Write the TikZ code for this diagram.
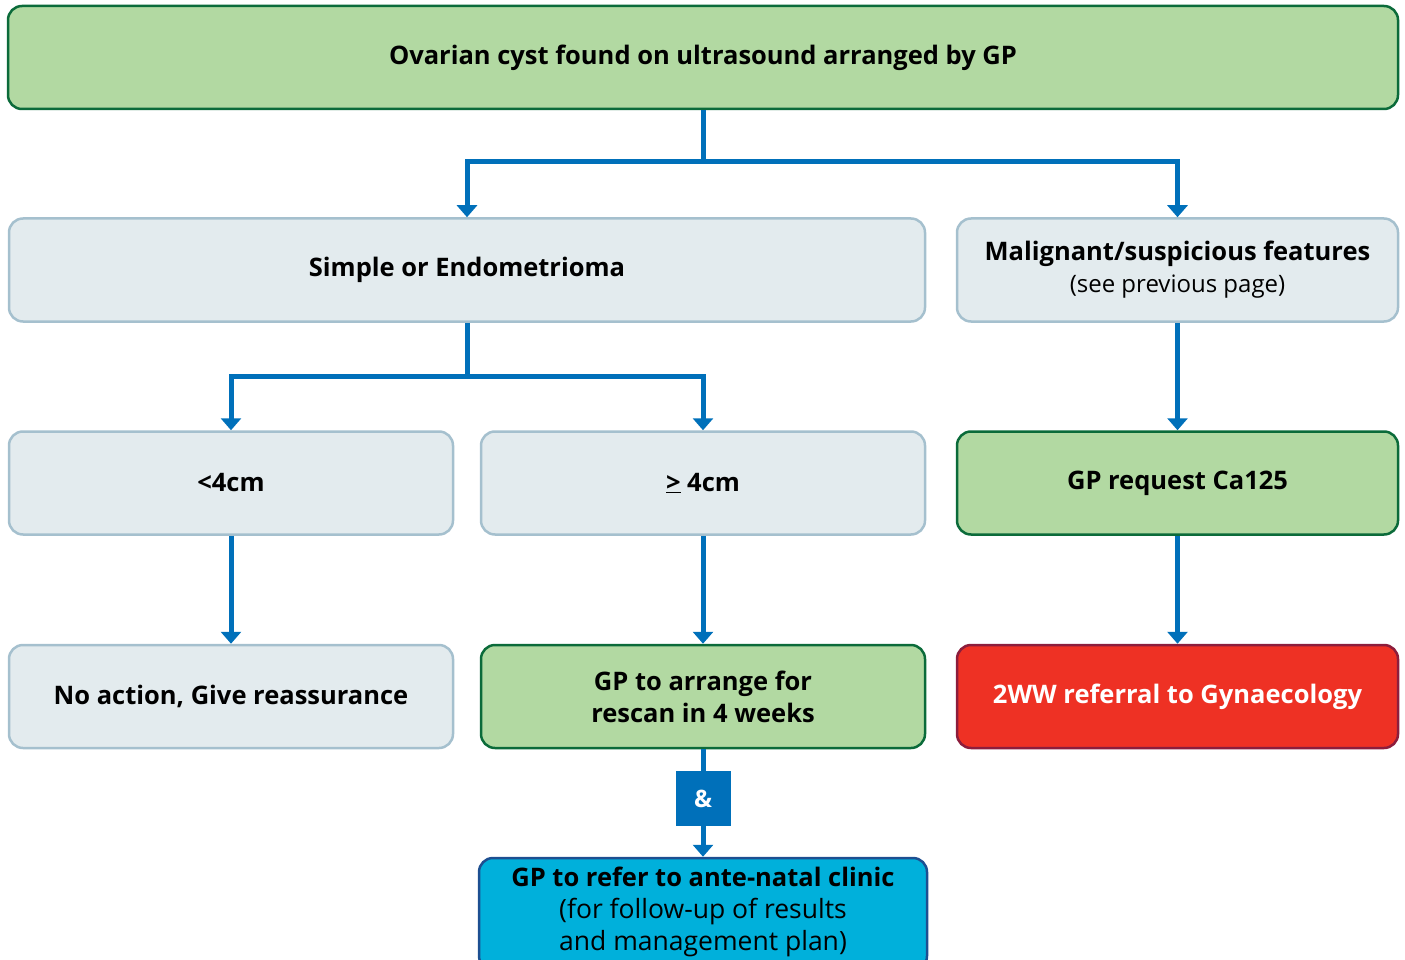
\documentclass[tikz,border=0pt]{standalone}
\usepackage{fontspec}
\setmainfont{Open Sans}
\usetikzlibrary{arrows.meta}
\definecolor{gfill}{HTML}{B2D9A2}
\definecolor{gline}{HTML}{0B6B3A}
\definecolor{pfill}{HTML}{E3EBEE}
\definecolor{pline}{HTML}{A5C0CE}
\definecolor{flow}{HTML}{0070BA}
\definecolor{rfill}{HTML}{EE3124}
\definecolor{rline}{HTML}{8C1D3C}
\definecolor{cfill}{HTML}{00B0DB}
\definecolor{cline}{HTML}{1D4F91}
\newcommand{\bt}{\fontsize{25.5}{32}\selectfont\bfseries}
\tikzset{
  box/.style={rectangle, rounded corners=14pt, line width=2.5pt, minimum height=103pt,
    align=center, inner sep=0pt, font=\fontsize{24}{32}\selectfont},
  greenbox/.style={box, fill=gfill, draw=gline},
  palebox/.style={box, fill=pfill, draw=pline},
  redbox/.style={box, fill=rfill, draw=rline, text=white},
  cyanbox/.style={box, fill=cfill, draw=cline, minimum height=112pt},
  andbox/.style={rectangle, fill=flow, minimum width=55pt, minimum height=55pt,
    inner sep=0pt, text=white, font=\fontsize{24}{28}\selectfont\bfseries},
  conn/.style={draw=flow, line width=5pt},
  arr/.style={conn, -{Triangle[width=20pt,length=12pt]}}
}
\begin{document}
\begin{tikzpicture}[x=1pt,y=-1pt]
\useasboundingbox (0,0) rectangle (1405,960);
\clip (0,0) rectangle (1405,960);

\node[greenbox, minimum width=1390pt] (top) at (703,57.5)
  {\bt Ovarian cyst found on ultrasound arranged by GP};

\node[palebox, minimum width=916pt] (simple) at (467,270)
  {\bt Simple or Endometrioma};
\node[palebox, minimum width=441pt] (malig) at (1177.5,270)
  {\bt Malignant/suspicious features\\(see previous page)};

\node[palebox, minimum width=444pt] (small) at (231,483) {\bt <4cm};
\node[palebox, minimum width=444pt] (large) at (703,483) {\bt \underline{>} 4cm};
\node[greenbox, minimum width=441pt] (ca) at (1177.5,483) {\bt GP request Ca125};

\node[palebox, minimum width=444pt] (noact) at (231,696.5)
  {\bt No action, Give reassurance};
\node[greenbox, minimum width=444pt] (rescan) at (703,696.5)
  {\bt GP to arrange for\\\bt rescan in 4 weeks};
\node[redbox, minimum width=441pt] (ref) at (1177.5,696.5)
  {\bt 2WW referral to Gynaecology};

\node[andbox] (and) at (703,798.5) {\&};
\node[cyanbox, minimum width=448pt] (clinic) at (703,914)
  {};
\node[align=center, font=\fontsize{26.5}{32}\selectfont, inner sep=0pt] (cliniclabel) at (703,912)
  {{\bt GP to refer to ante-natal clinic}\\(for follow-up of results\\and management plan)};

\coordinate (j1) at (703,162);
\coordinate (j2) at (467,376);

\draw[conn] (top.south) -- (j1);
\draw[arr] (j1) -| (simple.north);
\draw[arr] (j1) -| (malig.north);

\draw[conn] (simple.south) -- (j2);
\draw[arr] (j2) -| (small.north);
\draw[arr] (j2) -| (large.north);

\draw[arr] (malig.south) -- (ca.north);
\draw[arr] (small.south) -- (noact.north);
\draw[arr] (large.south) -- (rescan.north);
\draw[arr] (ca.south) -- (ref.north);

\draw[conn] (rescan.south) -- (and.north);
\draw[arr] (and.south) -- (clinic.north);
\end{tikzpicture}
\end{document}
